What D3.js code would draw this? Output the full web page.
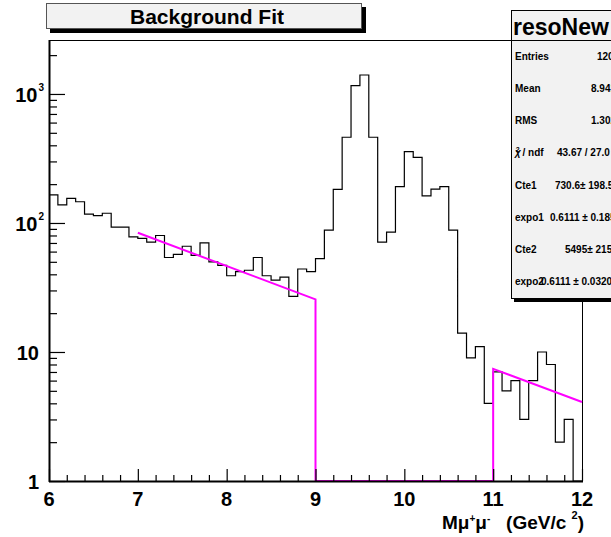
<!DOCTYPE html>
<html>
<head>
<meta charset="utf-8">
<script src="https://cdn.jsdelivr.net/npm/d3@7/dist/d3.min.js"></script>
<style>
body { margin: 0; background: #fff; }
svg text { font-family: "Liberation Sans", Arial, Helvetica, sans-serif; font-weight: bold; fill: #000; }
</style>
</head>
<body>
<div id="resoFitDiv"></div>
<script>
// histogram: 60 bins of 0.1 GeV from 6 to 12
let binStart = 6;
let binWidth = 0.1;
let counts = [165, 138, 155, 146, 117, 114, 119, 93, 93, 78,
              76, 71, 80, 54, 57, 66, 56, 70, 50, 47,
              39, 42, 43, 54, 39, 36, 38, 27, 44, 42,
              53, 88, 182, 462, 1159, 1403, 462, 71, 85, 191,
              357, 323, 162, 183, 191, 88, 14, 9, 11, 4,
              7, 5, 6, 3, 6, 10, 8, 2, 3, 0];

// background fit (two exponentials, zero in the signal window)
let fitX = [7, 9, 9, 11, 11, 12];
let fitY = [84, 25.6, 0, 0, 7.4, 4.1];

let xTicks = [6, 7, 8, 9, 10, 11, 12];
let yMajor = [1, 10, 100, 1000];
let yLabelBase = ["1", "10", "10", "10"];
let yLabelExp = ["", "", "2", "3"];
let yMax = 2620;

let statNames = ["Entries", "Mean", "RMS", "chi2", "Cte1", "expo1", "Cte2", "expo2"];
let statValues = ["1205", "8.941", "1.302", "43.67 / 27.0", "730.6\u00b1 198.5", "0.6111 \u00b1 0.1855", "5495\u00b1 215.4", "0.6111 \u00b1 0.03208"];
let statValueX = [597, 591, 591, 557, 555, 550, 565, 541];

function drawChart(){
	let svg = d3.select("#resoFitDiv")
				.append("svg")
				.attr("width", 611)
				.attr("height", 537);

	let left = 49, right = 582, top = 40, bottom = 481;

	let xScale = d3.scaleLinear()
				.domain([6, 12])
				.range([left, right]);

	let yScale = d3.scaleLog()
				.domain([1, yMax])
				.range([bottom, top])
				.clamp(true);

	// frame
	svg.append("rect")
		.attr("x", left + 0.5).attr("y", top + 0.5)
		.attr("width", right - left).attr("height", bottom - top)
		.attr("fill", "none")
		.attr("stroke", "#000")
		.attr("stroke-width", 1);

	// histogram outline
	let histPts = [];
	counts.forEach(function(c, i){
		let lo = binStart + i * binWidth;
		histPts.push([lo, c]);
		histPts.push([lo + binWidth, c]);
	});

	let histLine = d3.line()
		.x(function(d){ return xScale(d[0]); })
		.y(function(d){ return yScale(Math.max(d[1], 1)); });

	svg.append("path")
		.datum(histPts)
		.attr("d", histLine)
		.attr("fill", "none")
		.attr("stroke", "#000")
		.attr("stroke-width", 1.2);

	// fit function
	let fitPts = fitX.map(function(x, i){ return [x, fitY[i]]; });
	svg.append("path")
		.datum(fitPts)
		.attr("d", histLine)
		.attr("fill", "none")
		.attr("stroke", "#ff00ff")
		.attr("stroke-width", 2);

	// y axis (ticks point into the frame)
	let yMinor = [];
	yMajor.forEach(function(m){
		for(let k = 2; k <= 9; k++){
			if(m * k < yMax) yMinor.push(m * k);
		}
	});

	svg.append("g")
		.attr("transform", "translate(" + left + ",0)")
		.call(d3.axisLeft(yScale).tickValues(yMinor).tickSize(-8).tickSizeOuter(0).tickFormat(""))
		.call(g => g.select(".domain").remove());

	svg.append("g")
		.attr("transform", "translate(" + left + ",0)")
		.call(d3.axisLeft(yScale).tickValues(yMajor).tickSize(-16).tickSizeOuter(0).tickFormat(""))
		.call(g => g.select(".domain").remove());

	// x axis
	let xMinor = d3.range(6, 12.001, 0.2).filter(function(v){ return Math.abs(v - Math.round(v)) > 0.01; });

	svg.append("g")
		.attr("transform", "translate(0," + bottom + ")")
		.call(d3.axisBottom(xScale).tickValues(xMinor).tickSize(-6).tickSizeOuter(0).tickFormat(""))
		.call(g => g.select(".domain").remove());

	svg.append("g")
		.attr("transform", "translate(0," + bottom + ")")
		.call(d3.axisBottom(xScale).tickValues(xTicks).tickSize(-12).tickSizeOuter(0).tickFormat(""))
		.call(g => g.select(".domain").remove());

	svg.selectAll(".tick line").attr("stroke", "#000").attr("stroke-width", 1.2);

	// axis lines
	svg.append("line")
		.attr("x1", left + 0.5).attr("x2", left + 0.5)
		.attr("y1", top).attr("y2", bottom + 1)
		.attr("stroke", "#000").attr("stroke-width", 2);
	svg.append("line")
		.attr("x1", left).attr("x2", right + 1)
		.attr("y1", bottom + 0.5).attr("y2", bottom + 0.5)
		.attr("stroke", "#000").attr("stroke-width", 2);

	// x tick labels
	svg.selectAll(".xlab")
		.data(xTicks)
		.enter().append("text")
		.attr("class", "xlab")
		.attr("x", function(d){ return xScale(d); })
		.attr("y", 506)
		.attr("text-anchor", "middle")
		.style("font-size", "20px")
		.text(function(d){ return d; });

	// y tick labels with exponents
	let yl = svg.selectAll(".ylab")
		.data(yMajor)
		.enter().append("text")
		.attr("class", "ylab")
		.attr("x", function(d, i){ return yLabelExp[i] ? 44 : 39; })
		.attr("y", function(d){ return yScale(d) + 8; })
		.attr("text-anchor", "end")
		.style("font-size", "20px");
	yl.append("tspan").text(function(d, i){ return yLabelBase[i]; });
	yl.append("tspan")
		.attr("dx", 1)
		.attr("dy", -11)
		.style("font-size", "10px")
		.text(function(d, i){ return yLabelExp[i]; });

	// x axis title
	let xt = svg.append("text")
		.attr("x", 584).attr("y", 529)
		.attr("text-anchor", "end")
		.style("font-size", "19px");
	xt.append("tspan").text("M\u03bc");
	xt.append("tspan").attr("dy", -7).style("font-size", "10px").text("+");
	xt.append("tspan").attr("dy", 7).text("\u03bc");
	xt.append("tspan").attr("dy", -7).style("font-size", "10px").text("-");
	xt.append("tspan").attr("dy", 7).text("\u00a0\u00a0\u00a0(GeV/c\u00a0");
	xt.append("tspan").attr("dy", -10).style("font-size", "11px").text("2");
	xt.append("tspan").attr("dy", 10).text(")");

	// title box
	svg.append("rect")
		.attr("x", 50).attr("y", 7).attr("width", 316).attr("height", 26)
		.attr("fill", "#000");
	svg.append("rect")
		.attr("x", 46.5).attr("y", 3.5).attr("width", 315).attr("height", 25)
		.attr("fill", "#f2f2f2").attr("stroke", "#555").attr("stroke-width", 1);
	svg.append("text")
		.attr("x", 207).attr("y", 23.5)
		.attr("text-anchor", "middle")
		.style("font-size", "21px")
		.text("Background Fit");

	// stats box
	let boxTop = 10, boxBottom = 298, headBottom = 40, boxLeft = 511;
	svg.append("rect")
		.attr("x", boxLeft + 3).attr("y", boxTop + 3)
		.attr("width", 120).attr("height", boxBottom - boxTop + 1)
		.attr("fill", "#000");
	svg.append("rect")
		.attr("x", boxLeft + 0.5).attr("y", boxTop + 0.5)
		.attr("width", 120).attr("height", boxBottom - boxTop)
		.attr("fill", "#f2f2f2").attr("stroke", "#000").attr("stroke-width", 1);
	svg.append("line")
		.attr("x1", boxLeft).attr("x2", 611)
		.attr("y1", headBottom + 0.5).attr("y2", headBottom + 0.5)
		.attr("stroke", "#000");
	svg.append("text")
		.attr("x", boxLeft + 2).attr("y", 35)
		.style("font-size", "23px")
		.text("resoNew");

	let rowH = (boxBottom - headBottom) / statNames.length;
	statNames.forEach(function(name, i){
		let yRow = headBottom + rowH * (i + 0.5) + 3.5;
		let t = svg.append("text")
			.attr("x", boxLeft + 4).attr("y", yRow)
			.style("font-size", "10px");
		if(name == "chi2"){
			t.append("tspan").style("font-style", "italic").text("\u03c7");
			t.append("tspan").attr("dx", -5).attr("dy", -4).style("font-size", "7px").text("2");
			t.append("tspan").attr("dy", 4).text(" / ndf");
		} else {
			t.text(name);
		}
		svg.append("text")
			.attr("x", statValueX[i]).attr("y", yRow)
			.style("font-size", "10px")
			.text(statValues[i]);
	});
}

drawChart();
</script>
</body>
</html>
